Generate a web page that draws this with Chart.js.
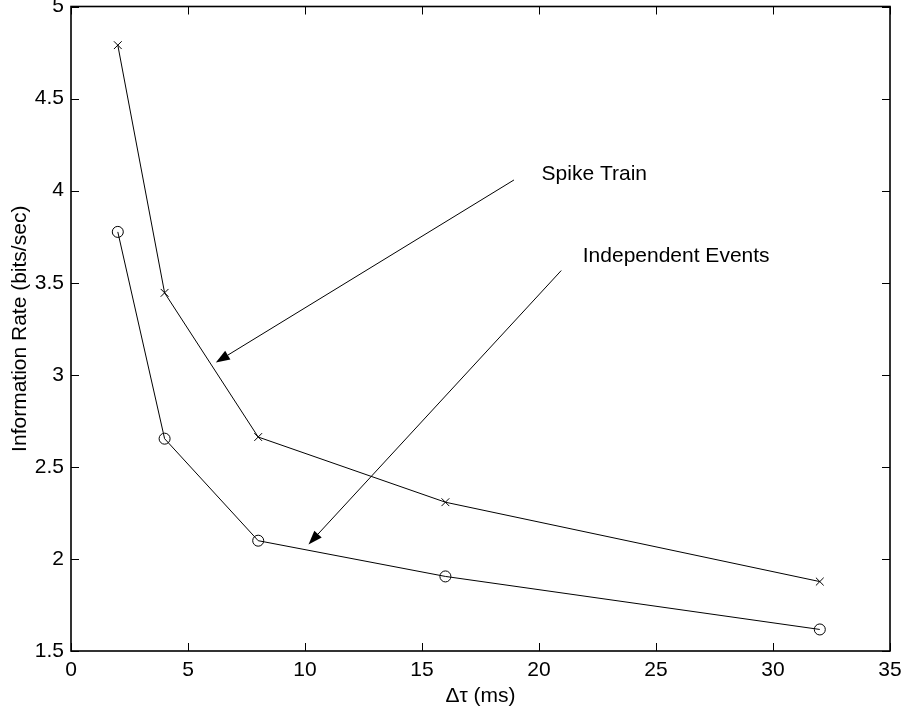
<!DOCTYPE html>
<html>
<head>
<meta charset="utf-8">
<style>
  html, body { margin: 0; padding: 0; background: #fff; }
</style>
<script src="https://cdn.jsdelivr.net/npm/chart.js@4/dist/chart.umd.min.js"></script>
</head>
<body>
<canvas id="chart" width="904" height="711"></canvas>
<script>
// data
const deltaTau = [2, 4, 8, 16, 32];
const spikeTrain = [4.79, 3.445, 2.662, 2.308, 1.877];
const independentEvents = [3.776, 2.653, 2.099, 1.905, 1.617];

const xTicks = [0, 5, 10, 15, 20, 25, 30, 35];
const yTicks = [1.5, 2, 2.5, 3, 3.5, 4, 4.5, 5];

// annotation text anchors and arrow ends, in data units
const noteLabels = ["Spike Train", "Independent Events"];
const noteText = [[20.11, 4.06], [21.87, 3.61]];
const arrowFrom = [[18.93, 4.058], [20.95, 3.566]];
const arrowTo = [[6.19, 3.067], [10.15, 2.079]];

const FONT = "'Liberation Sans', Arial, Helvetica, sans-serif";

const toPoints = (xs, ys) => xs.map((x, i) => ({ x: x, y: ys[i] }));

// box around the plot with inward ticks on all four sides
const boxPlugin = {
    id: "box",
    afterDatasetsDraw(chart) {
        const { ctx, chartArea: a, scales } = chart;
        const len = 8;
        ctx.save();
        ctx.strokeStyle = "#000";
        ctx.lineWidth = 1;
        ctx.beginPath();
        xTicks.forEach((v) => {
            const px = Math.round(scales.x.getPixelForValue(v)) + 0.5;
            ctx.moveTo(px, a.bottom); ctx.lineTo(px, a.bottom - len);
            ctx.moveTo(px, a.top); ctx.lineTo(px, a.top + len);
        });
        yTicks.forEach((v) => {
            const py = Math.round(scales.y.getPixelForValue(v)) + 0.5;
            ctx.moveTo(a.left, py); ctx.lineTo(a.left + len, py);
            ctx.moveTo(a.right, py); ctx.lineTo(a.right - len, py);
        });
        ctx.stroke();
        ctx.lineWidth = 1.6;
        ctx.strokeRect(a.left, a.top, a.right - a.left, a.bottom - a.top);
        ctx.restore();
    }
};

const arrowPlugin = {
    id: "arrows",
    afterDatasetsDraw(chart) {
        const { ctx, scales } = chart;
        ctx.save();
        ctx.strokeStyle = "#000";
        ctx.fillStyle = "#000";
        ctx.lineWidth = 1;
        noteLabels.forEach((label, i) => {
            const x0 = scales.x.getPixelForValue(arrowFrom[i][0]);
            const y0 = scales.y.getPixelForValue(arrowFrom[i][1]);
            const x1 = scales.x.getPixelForValue(arrowTo[i][0]);
            const y1 = scales.y.getPixelForValue(arrowTo[i][1]);
            const ang = Math.atan2(y1 - y0, x1 - x0);
            const hl = 14, hw = 5;
            const bx = x1 - hl * Math.cos(ang), by = y1 - hl * Math.sin(ang);
            ctx.beginPath();
            ctx.moveTo(x0, y0);
            ctx.lineTo(bx, by);
            ctx.stroke();
            ctx.beginPath();
            ctx.moveTo(x1, y1);
            ctx.lineTo(bx + hw * Math.sin(ang), by - hw * Math.cos(ang));
            ctx.lineTo(bx - hw * Math.sin(ang), by + hw * Math.cos(ang));
            ctx.closePath();
            ctx.fill();

            ctx.font = "21px " + FONT;
            ctx.textAlign = "left";
            ctx.textBaseline = "alphabetic";
            ctx.fillText(label, scales.x.getPixelForValue(noteText[i][0]),
                scales.y.getPixelForValue(noteText[i][1]));
        });
        ctx.restore();
    }
};

new Chart(document.getElementById("chart"), {
    type: "scatter",
    data: {
        datasets: [
            {
                label: "Spike Train",
                data: toPoints(deltaTau, spikeTrain),
                showLine: true,
                borderColor: "#000",
                backgroundColor: "#000",
                borderWidth: 1,
                pointStyle: "crossRot",
                pointRadius: 5.5,
                pointBorderWidth: 1,
            },
            {
                label: "Independent Events",
                data: toPoints(deltaTau, independentEvents),
                showLine: true,
                borderColor: "#000",
                backgroundColor: "rgba(0,0,0,0)",
                borderWidth: 1,
                pointStyle: "circle",
                pointRadius: 5.5,
                pointBorderWidth: 1,
            },
        ],
    },
    options: {
        responsive: false,
        animation: false,
        devicePixelRatio: 1,
        layout: { padding: { top: 5, right: 14, left: 0, bottom: 0 } },
        plugins: {
            legend: { display: false },
            tooltip: { enabled: false },
        },
        scales: {
            x: {
                type: "linear",
                min: 0,
                max: 35,
                afterFit: (s) => {
                    s.height = 60;
                    s.paddingLeft = 0;
                    s.paddingRight = 0;
                },
                afterBuildTicks: (s) => { s.ticks = xTicks.map((v) => ({ value: v })); },
                grid: { display: false, drawTicks: false },
                border: { display: false },
                ticks: {
                    color: "#000",
                    padding: 7,
                    maxRotation: 0,
                    font: { family: FONT, size: 21 },
                    callback: (v) => String(v),
                },
                title: {
                    display: true,
                    text: "Δτ (ms)",
                    color: "#000",
                    font: { family: FONT, size: 21 },
                    padding: { top: 0, bottom: 2 },
                },
            },
            y: {
                type: "linear",
                min: 1.5,
                max: 5,
                afterFit: (s) => {
                    s.width = 71;
                    s.paddingTop = 0;
                    s.paddingBottom = 0;
                },
                afterBuildTicks: (s) => { s.ticks = yTicks.map((v) => ({ value: v })); },
                grid: { display: false, drawTicks: false },
                border: { display: false },
                ticks: {
                    color: "#000",
                    padding: 7,
                    font: { family: FONT, size: 21 },
                    callback: (v) => String(v),
                },
                title: {
                    display: true,
                    text: "Information Rate (bits/sec)",
                    color: "#000",
                    font: { family: FONT, size: 21 },
                    padding: { top: 8, bottom: 0 },
                },
            },
        },
    },
    plugins: [boxPlugin, arrowPlugin],
});
</script>
</body>
</html>
